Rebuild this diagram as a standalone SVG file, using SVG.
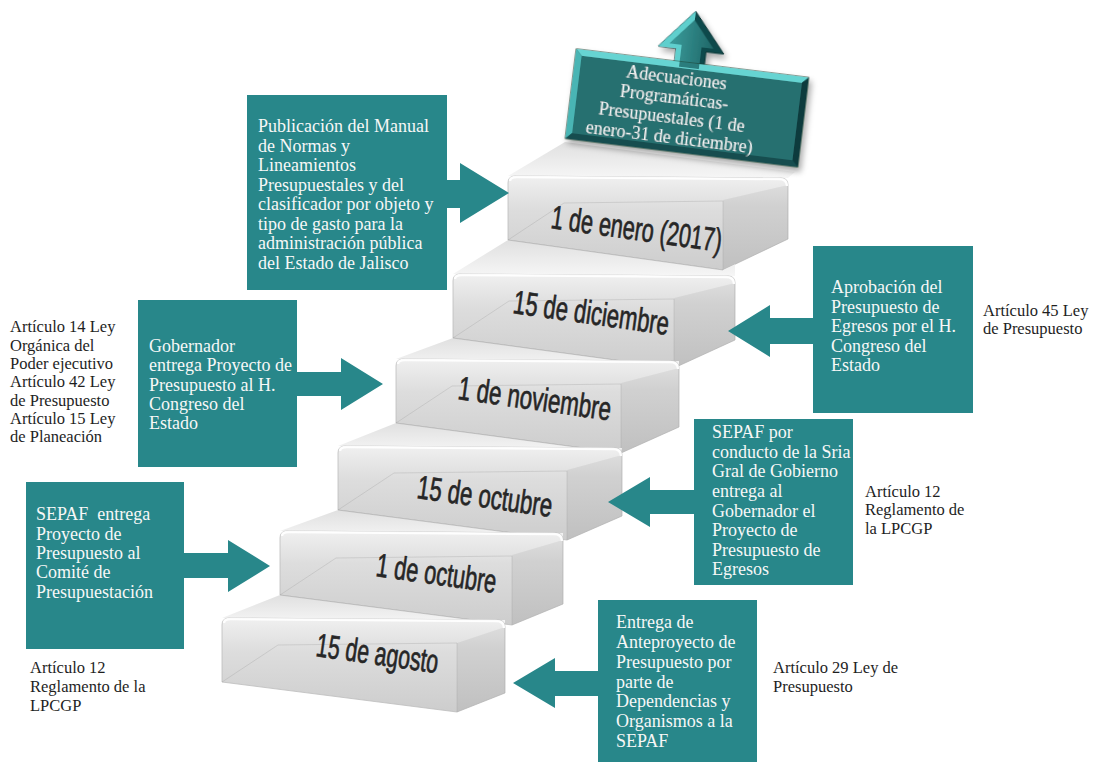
<svg xmlns="http://www.w3.org/2000/svg" width="1097" height="763" viewBox="0 0 1097 763">
<defs>
<style>
.box{fill:#28878a;}
.conn{fill:#28878a;}
.bt{font-family:"Liberation Serif","DejaVu Serif",serif;font-size:18px;fill:#f7f7f7;}
.lbl{font-family:"Liberation Serif","DejaVu Serif",serif;font-size:16.5px;fill:#1e1e1e;}
.st{font-family:"Liberation Sans Narrow","Liberation Sans","DejaVu Sans Condensed",sans-serif;font-size:33px;font-weight:normal;fill:#262626;stroke:#262626;stroke-width:0.7;}
.front{fill:url(#gFront);stroke:#bdbdbd;stroke-width:0.8;}
.side{fill:#000;fill-opacity:0.06;}
.tread{fill:url(#gTread);}
.crease{fill:none;stroke:#a8a8a8;stroke-width:0.8;stroke-opacity:0.7;}
.inner{fill:none;stroke:#9a9a9a;stroke-opacity:0.3;stroke-width:1;}
.hl{fill:none;stroke:#fff;stroke-width:2.5;stroke-opacity:0.9;}
.tt{font-family:"Liberation Serif","DejaVu Serif",serif;font-size:18px;fill:#f4f4f4;text-anchor:middle;}
</style>
<linearGradient id="gFront" x1="0" y1="0" x2="0" y2="1">
<stop offset="0" stop-color="#f0f0f0"/>
<stop offset="0.35" stop-color="#dddddd"/>
<stop offset="1" stop-color="#cdcdcd"/>
</linearGradient>
<linearGradient id="gTread" x1="0" y1="1" x2="0" y2="0">
<stop offset="0" stop-color="#f6f6f6"/>
<stop offset="1" stop-color="#e0e0e0"/>
</linearGradient>
<linearGradient id="gArrow" x1="0" y1="0" x2="1" y2="0">
<stop offset="0" stop-color="#3a9c9b"/>
<stop offset="1" stop-color="#1f6667"/>
</linearGradient>
<filter id="sh" x="-20%" y="-20%" width="140%" height="140%">
<feGaussianBlur in="SourceAlpha" stdDeviation="3"/>
<feOffset dx="3" dy="4" result="b"/>
<feComponentTransfer><feFuncA type="linear" slope="0.35"/></feComponentTransfer>
<feMerge><feMergeNode/><feMergeNode in="SourceGraphic"/></feMerge>
</filter>
</defs>
<rect width="1097" height="763" fill="#ffffff"/>

<!-- Staircase (back to front) -->
<g id="stairs">
<g id="step6">
<polygon class="tread" points="508,176 565,142 795,172 788,178"/>
<path class="front" d="M508,183 Q508,176 515,176 L781,178 Q788,178 788,185 L788,239 L723,270 L508,240 Z"/>
<polygon class="side" points="723,200 788,185 788,239 723,270"/>
<polyline class="inner" points="508,240 564,203 723,201 723,270"/>
<path class="hl" d="M510,181 Q510,177 517,177 L779,179 Q787,179 787,186"/>
<text class="st" x="550" y="228" transform="rotate(8 550 228)" textLength="172" lengthAdjust="spacingAndGlyphs">1 de enero (2017)</text>
</g>
<g id="step5">
<polygon class="tread" points="453,274 508,240 723,270 735,264.3 735,276"/>
<polyline class="crease" points="508,240 723,270"/>
<path class="front" d="M453,281 Q453,274 460,274 L728,276 Q735,276 735,283 L735,340 L674,368 L453,338 Z"/>
<polygon class="side" points="674,298 735,283 735,340 674,368"/>
<polyline class="inner" points="453,338 509,301 674,299 674,368"/>
<path class="hl" d="M455,279 Q455,275 462,275 L726,277 Q734,277 734,284"/>
<text class="st" x="512" y="313" transform="rotate(8 512 313)" textLength="157" lengthAdjust="spacingAndGlyphs">15 de diciembre</text>
</g>
<g id="step4">
<polygon class="tread" points="396,359 453,338 674,368 679,365.7 679,361"/>
<polyline class="crease" points="453,338 674,368"/>
<path class="front" d="M396,366 Q396,359 403,359 L672,361 Q679,361 679,368 L679,427 L621,453 L396,423 Z"/>
<polygon class="side" points="621,383 679,368 679,427 621,453"/>
<polyline class="inner" points="396,423 452,386 621,384 621,453"/>
<path class="hl" d="M398,364 Q398,360 405,360 L670,362 Q678,362 678,369"/>
<text class="st" x="457" y="399" transform="rotate(8 457 399)" textLength="154" lengthAdjust="spacingAndGlyphs">1 de noviembre</text>
</g>
<g id="step3">
<polygon class="tread" points="338,446 396,423 621,453 622,448"/>
<polyline class="crease" points="396,423 621,453"/>
<path class="front" d="M338,453 Q338,446 345,446 L615,448 Q622,448 622,455 L622,516 L567,540 L338,510 Z"/>
<polygon class="side" points="567,470 622,455 622,516 567,540"/>
<polyline class="inner" points="338,510 394,473 567,471 567,540"/>
<path class="hl" d="M340,451 Q340,447 347,447 L613,449 Q621,449 621,456"/>
<text class="st" x="416" y="498" transform="rotate(8 416 498)" textLength="136" lengthAdjust="spacingAndGlyphs">15 de octubre</text>
</g>
<g id="step2">
<polygon class="tread" points="280,531 338,510 563,539.5 563,533"/>
<polyline class="crease" points="338,510 563,539.5"/>
<path class="front" d="M280,538 Q280,531 287,531 L556,533 Q563,533 563,540 L563,604 L512,625 L280,595 Z"/>
<polygon class="side" points="512,555 563,540 563,604 512,625"/>
<polyline class="inner" points="280,595 336,558 512,556 512,625"/>
<path class="hl" d="M282,536 Q282,532 289,532 L554,534 Q562,534 562,541"/>
<text class="st" x="375" y="576" transform="rotate(8 375 576)" textLength="121" lengthAdjust="spacingAndGlyphs">1 de octubre</text>
</g>
<g id="step1">
<polygon class="tread" points="222,618 280,595 505,624 505,620"/>
<polyline class="crease" points="280,595 505,624"/>
<path class="front" d="M222,625 Q222,618 229,618 L498,620 Q505,620 505,627 L505,693 L457,712 L222,682 Z"/>
<polygon class="side" points="457,643 505,627 505,693 457,712"/>
<polyline class="inner" points="222,682 278,645 457,643 457,712"/>
<path class="hl" d="M224,623 Q224,619 231,619 L496,621 Q504,621 504,628"/>
<text class="st" x="315" y="656" transform="rotate(8 315 656)" textLength="123" lengthAdjust="spacingAndGlyphs">15 de agosto</text>
</g>
</g>

<!-- Top node -->
<g id="node-adecuaciones" transform="translate(687,108) rotate(7)" filter="url(#sh)">
<polygon points="-18,-40 -18,-58 -36,-58 -3,-97 30,-58 12,-58 12,-40" fill="#0f4a4b" stroke="#0b3535" stroke-width="1"/>
<polygon points="-18,-40 -18,-58 -36,-58 -3,-97 -3,-88 -25,-62 -13,-62 -13,-40" fill="#5fcfcd"/>
<polygon points="-13,-40 -13,-62 -25,-62 -3,-88 19,-62 7,-62 7,-40" fill="url(#gArrow)"/>
<rect x="-117" y="-45" width="234" height="90" fill="#0f4546" stroke="#1b3d2a" stroke-width="1"/>
<polygon points="-117,-45 117,-45 111,-39 -111,-39" fill="#66d4d2"/>
<polygon points="-117,-45 -111,-39 -111,39 -117,45" fill="#4ab5b4"/>
<polygon points="117,-45 117,45 111,39 111,-39" fill="#0c3b3c"/>
<polygon points="-117,45 117,45 111,39 -111,39" fill="#134e4f"/>
<rect x="-111" y="-39" width="222" height="78" fill="#256f70"/>
<polygon points="-13,-45 7,-45 7,-40 -13,-40" fill="#2b7d7d"/>
<text class="tt" x="-14" y="-23.5">Adecuaciones</text>
<text class="tt" x="-14" y="-3.5">Programáticas-</text>
<text class="tt" x="-14" y="16.5">Presupuestales (1 de</text>
<text class="tt" x="-14" y="36.5">enero-31 de diciembre)</text>
</g>

<!-- Connectors (block arrows) -->
<g id="connectors">
<polygon class="conn" points="446,180 460,180 460,163 509,193 460,223 460,208 446,208"/>
<polygon class="conn" points="296,372 341,372 341,358 383,384 341,410 341,396 296,396"/>
<polygon class="conn" points="183,553 228,553 228,540 270,566 228,592 228,578 183,578"/>
<polygon class="conn" points="814,318 770,318 770,305 728,331 770,357 770,344 814,344"/>
<polygon class="conn" points="695,490 650,490 650,477 608,502 650,527 650,514 695,514"/>
<polygon class="conn" points="599,671 555,671 555,658 513,683 555,708 555,696 599,696"/>
</g>

<!-- Nodes -->
<g id="node-publicacion">
<rect class="box" x="247" y="95" width="200" height="195"/>
<text class="bt" x="258" y="132">Publicación del Manual</text>
<text class="bt" x="258" y="151.5">de Normas y</text>
<text class="bt" x="258" y="171">Lineamientos</text>
<text class="bt" x="258" y="190.5">Presupuestales y del</text>
<text class="bt" x="258" y="210">clasificador por objeto y</text>
<text class="bt" x="258" y="229.5">tipo de gasto para la</text>
<text class="bt" x="258" y="249">administración pública</text>
<text class="bt" x="258" y="268.5">del Estado de Jalisco</text>
</g>

<g id="node-gobernador">
<rect class="box" x="138" y="300" width="159" height="167"/>
<text class="bt" x="149" y="352">Gobernador</text>
<text class="bt" x="149" y="371">entrega Proyecto de</text>
<text class="bt" x="149" y="390.5">Presupuesto al H.</text>
<text class="bt" x="149" y="410">Congreso del</text>
<text class="bt" x="149" y="429">Estado</text>
</g>

<g id="node-sepaf-comite">
<rect class="box" x="26" y="482" width="158" height="167"/>
<text class="bt" x="36" y="520">SEPAF&#160; entrega</text>
<text class="bt" x="36" y="540">Proyecto de</text>
<text class="bt" x="36" y="559">Presupuesto al</text>
<text class="bt" x="36" y="578">Comité de</text>
<text class="bt" x="36" y="598">Presupuestación</text>
</g>

<g id="node-aprobacion">
<rect class="box" x="813" y="246" width="160" height="167"/>
<text class="bt" x="831" y="293">Aprobación del</text>
<text class="bt" x="831" y="313">Presupuesto de</text>
<text class="bt" x="831" y="332">Egresos por el H.</text>
<text class="bt" x="831" y="352">Congreso del</text>
<text class="bt" x="831" y="371">Estado</text>
</g>

<g id="node-sepaf-gobernador">
<rect class="box" x="694" y="419" width="159" height="166"/>
<text class="bt" x="712" y="438">SEPAF por</text>
<text class="bt" x="712" y="458">conducto de la Sria</text>
<text class="bt" x="712" y="477">Gral de Gobierno</text>
<text class="bt" x="712" y="497">entrega al</text>
<text class="bt" x="712" y="517">Gobernador el</text>
<text class="bt" x="712" y="536">Proyecto de</text>
<text class="bt" x="712" y="556">Presupuesto de</text>
<text class="bt" x="712" y="575">Egresos</text>
</g>

<g id="node-anteproyecto">
<rect class="box" x="598" y="600" width="159" height="162"/>
<text class="bt" x="616" y="628">Entrega de</text>
<text class="bt" x="616" y="648">Anteproyecto de</text>
<text class="bt" x="616" y="668">Presupuesto por</text>
<text class="bt" x="616" y="688">parte de</text>
<text class="bt" x="616" y="707">Dependencias y</text>
<text class="bt" x="616" y="727">Organismos a la</text>
<text class="bt" x="616" y="747">SEPAF</text>
</g>

<!-- Legal references -->
<g id="ref-gobernador">
<text class="lbl" x="10" y="332">Artículo 14 Ley</text>
<text class="lbl" x="10" y="350.5">Orgánica del</text>
<text class="lbl" x="10" y="369">Poder ejecutivo</text>
<text class="lbl" x="10" y="387">Artículo 42 Ley</text>
<text class="lbl" x="10" y="405.5">de Presupuesto</text>
<text class="lbl" x="10" y="424">Artículo 15 Ley</text>
<text class="lbl" x="10" y="442">de Planeación</text>
</g>
<g id="ref-sepaf-comite">
<text class="lbl" x="30" y="673">Artículo 12</text>
<text class="lbl" x="30" y="692">Reglamento de la</text>
<text class="lbl" x="30" y="711">LPCGP</text>
</g>
<g id="ref-aprobacion">
<text class="lbl" x="983" y="316">Artículo 45 Ley</text>
<text class="lbl" x="983" y="334">de Presupuesto</text>
</g>
<g id="ref-sepaf-gobernador">
<text class="lbl" x="865" y="497">Artículo 12</text>
<text class="lbl" x="865" y="515">Reglamento de</text>
<text class="lbl" x="865" y="534">la LPCGP</text>
</g>
<g id="ref-anteproyecto">
<text class="lbl" x="773" y="673">Artículo 29 Ley de</text>
<text class="lbl" x="773" y="692">Presupuesto</text>
</g>
</svg>
